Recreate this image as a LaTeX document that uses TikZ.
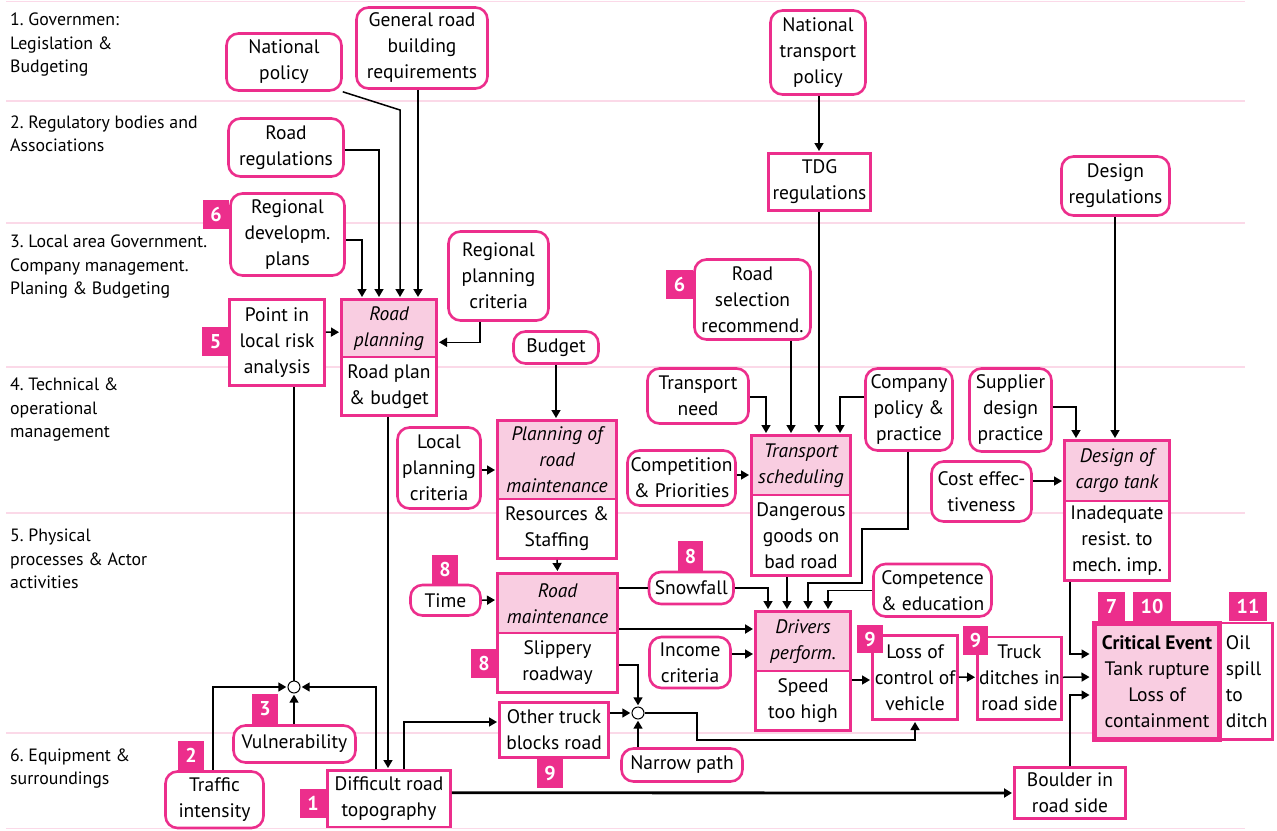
\documentclass[tikz,border=0pt]{standalone}
\usepackage{fontspec}
\setmainfont{PT Sans}
\usetikzlibrary{arrows.meta}
\definecolor{mag}{HTML}{EC2E8C}
\definecolor{lightmag}{HTML}{F9CDE1}
\definecolor{rulepink}{HTML}{FBD9E8}
\newcommand\nodefont{\fontsize{19.5}{26}\selectfont}
\newcommand\lvlfont{\fontsize{17.8}{23.5}\selectfont}
\newcommand\badgefont{\fontsize{20}{20}\selectfont\bfseries}
% box spanning (x1,y1)-(x2,y2): style, name, x1, y1, x2, y2, text
\newcommand\bx[7]{%
  \node[#1, minimum width={#5-#3}, minimum height={#6-#4}]
    (#2) at ({(#3+#5)/2},{(#4+#6)/2}) {#7};}
\begin{document}
\begin{tikzpicture}[x=1pt,y=-1pt,
  base/.style={inner sep=0pt, align=center, font=\nodefont, line width=2.6pt, draw=mag},
  rbox/.style={base, rounded corners=12pt, fill=white},
  sbox/.style={base, fill=white},
  hbox/.style={base, fill=lightmag, font=\nodefont\itshape},
  crit/.style={base, line width=5pt, fill=lightmag},
  badge/.style={inner sep=0pt, fill=mag, text=white, font=\badgefont},
  lvl/.style={inner sep=0pt, align=left, font=\lvlfont, anchor=west},
  junc/.style={circle, draw=black, fill=white, line width=1pt, minimum size=12pt, inner sep=0pt},
  plain/.style={draw=black, line width=1.5pt},
  conn/.style={plain, -{Triangle[length=8pt,width=9pt]}, shorten >=1.2pt},
  heavy/.style={line width=2.8pt},
  rulel/.style={draw=rulepink, line width=1.5pt}]
\useasboundingbox (0,0) rectangle (1277,830);

% level separators
\foreach \y in {1.5,101,223,367,513,733,828.5}
  \draw[rulel] (6,\y) -- (1245,\y);

% level labels
\node[lvl] (lv1) at (10,45) {1.~Governmen:\\Legislation \&\\Budgeting};
\node[lvl] (lv2) at (10,134) {2.~Regulatory bodies and\\Associations};
\node[lvl] (lv3) at (10,267) {3.~Local area Government.\\Company management.\\Planing \& Budgeting};
\node[lvl] (lv4) at (10,410) {4.~Technical \&\\operational\\management};
\node[lvl] (lv5) at (10,559) {5.~Physical\\processes \& Actor\\activities};
\node[lvl] (lv6) at (10,768.5) {6.~Equipment \&\\surroundings};

% level 1 and 2
\bx{rbox}{natpol}{226.5}{33.5}{341.5}{90.5}{National\\policy}
\bx{rbox}{genroad}{356.5}{7.5}{487.5}{88.5}{General road\\building\\requirements}
\bx{rbox}{ntp}{770.5}{10.5}{865.5}{94.5}{National\\transport\\policy}
\bx{rbox}{roadreg}{228.5}{118.5}{343.5}{176.5}{Road\\regulations}
\bx{sbox}{tdg}{768.5}{153.5}{870.5}{210.5}{TDG\\regulations}
\bx{rbox}{desreg}{1061.5}{156.5}{1169.5}{215.5}{Design\\regulations}

% level 3
\bx{rbox}{regdev}{230.5}{193.5}{344.5}{275.5}{Regional\\developm.\\plans}
\bx{rbox}{regplan}{448.5}{231.5}{548.5}{320.5}{Regional\\planning\\criteria}
\bx{rbox}{roadsel}{694.5}{259.5}{810.5}{339.5}{Road\\selection\\recommend.}
\bx{sbox}{pointrisk}{229.5}{299.5}{324.5}{385.5}{Point in\\local risk\\analysis}
\bx{sbox}{rplanb}{341.5}{357}{436.5}{415.5}{Road plan\\\& budget}
\bx{hbox}{rplan}{341.5}{299.5}{436.5}{357}{Road\\planning}
\bx{rbox}{budget}{513.5}{331.5}{598.5}{363.5}{Budget}

% level 4
\bx{rbox}{localplan}{397.5}{427.5}{480.5}{508.5}{Local\\planning\\criteria}
\bx{sbox}{pmaintb}{497.5}{499}{616.5}{558.5}{Resources \&\\Staffing}
\bx{hbox}{pmaint}{497.5}{420.5}{616.5}{499}{Planning of\\road\\maintenance}
\bx{rbox}{tneed}{647.5}{368.5}{748.5}{423.5}{Transport\\need}
\bx{rbox}{compet}{627.5}{450.5}{735.5}{505.5}{Competition\\\& Priorities}
\bx{sbox}{tschedb}{751.5}{495}{850.5}{575.5}{Dangerous\\goods on\\bad road}
\bx{hbox}{tsched}{751.5}{435.5}{850.5}{495}{Transport\\scheduling}
\bx{rbox}{company}{865.5}{368.5}{952.5}{450.5}{Company\\policy \&\\practice}
\bx{rbox}{supplier}{969.5}{368.5}{1051.5}{451.5}{Supplier\\design\\practice}
\bx{rbox}{cost}{931.5}{461.5}{1031.5}{521.5}{Cost effec-\\tiveness}
\bx{sbox}{designb}{1064.5}{501}{1169.5}{580.5}{Inadequate\\resist.~to\\mech.~imp.}
\bx{hbox}{design}{1064.5}{440.5}{1169.5}{501}{Design of\\cargo tank}

% level 5
\bx{rbox}{time}{410.5}{585}{480.5}{615.5}{Time}
\bx{sbox}{rmaintb}{497.5}{633}{617.5}{692.5}{Slippery\\roadway}
\bx{hbox}{rmaint}{497.5}{573.5}{617.5}{633}{Road\\maintenance}
\bx{rbox}{snow}{649}{572}{733.5}{604}{Snowfall}
\bx{rbox}{competence}{873.5}{564}{991.5}{616.5}{Competence\\\& education}
\bx{sbox}{driversb}{755.5}{671}{850.5}{730.5}{Speed\\too high}
\bx{hbox}{drivers}{755.5}{611.5}{850.5}{671}{Drivers\\perform.}
\bx{rbox}{income}{649.5}{637}{730.5}{688}{Income\\criteria}
\bx{sbox}{loss}{872.5}{635.5}{957.5}{719.5}{Loss of\\control of\\vehicle}
\bx{sbox}{truck}{977.5}{637}{1061.5}{719.5}{Truck\\ditches in\\road side}
\bx{sbox,align=left}{oil}{1221}{623}{1272.5}{739.5}{Oil\\spill\\to\\ditch}
\bx{crit}{critical}{1094.5}{623.5}{1219.5}{739.5}{\textbf{Critical Event}\\Tank rupture\\Loss of\\containment}

% level 6
\bx{sbox}{other}{499.5}{702.5}{608.5}{757.5}{Other truck\\blocks road}
\bx{rbox}{narrow}{621.5}{748.5}{742.5}{781.5}{Narrow path}
\bx{rbox}{vuln}{233.5}{725.5}{355.5}{762.5}{Vulnerability}
\bx{rbox}{traffic}{165.5}{771.5}{263.5}{828}{Traffic\\intensity}
\bx{sbox}{difficult}{327.5}{770.5}{450.5}{827}{Difficult road\\topography}
\bx{sbox}{boulder}{1014.5}{767.5}{1125.5}{818.5}{Boulder in\\road side}

% junctions
\node[junc] (j1) at (294,687) {};
\node[junc] (j2) at (638,713) {};

% numbered tags
\bx{badge}{tagA}{203}{200}{229}{229}{6}
\bx{badge}{tagB}{666}{270}{693}{299}{6}
\bx{badge}{tagC}{202}{327}{229}{356}{5}
\bx{badge}{tagD}{432}{555}{458}{584}{8}
\bx{badge}{tagE}{471}{649}{497}{678}{8}
\bx{badge}{tagF}{678}{541}{703}{571}{8}
\bx{badge}{tagG}{857}{625}{883}{653}{9}
\bx{badge}{tagH}{963}{626}{988}{655}{9}
\bx{badge}{tagI}{1098}{592}{1125}{621}{7}
\bx{badge}{tagJ}{1133}{592}{1171}{621}{10}
\bx{badge}{tagK}{1229}{592}{1267}{621}{11}
\bx{badge}{tagL}{537}{759}{563}{788}{9}
\bx{badge}{tagM}{252}{694}{278}{724}{3}
\bx{badge}{tagN}{178}{741}{204}{770}{2}
\bx{badge}{tagO}{300}{789}{326}{818}{1}

% connectors into road planning
\draw[conn] (natpol.south east) -- (400,110) -- ([xshift=11]rplan.north);
\draw[conn,heavy] ([xshift=-4]genroad.south) -- ([xshift=29]rplan.north);
\draw[conn] ([yshift=-2.5]roadreg.east) -| ([xshift=-10]rplan.north);
\draw[conn] ([yshift=-5.5]regdev.east) -| ([xshift=-27]rplan.north);
\draw[conn] ([xshift=-18.5]regplan.south) |- ([yshift=-14]rplan.east);
\draw[conn] ([yshift=10.5]pointrisk.east) -- ([yshift=-4]rplan.west);

% risk combination at the roadside
\draw[plain] ([xshift=17]pointrisk.south) -- (j1.north);
\draw[conn] ([xshift=-1.5]traffic.north) |- (j1.west);
\draw[conn] (vuln.north -| j1.south) -- (j1.south);
\draw[conn] ([xshift=-13]difficult.north) |- (j1.east);
\draw[conn] ([xshift=-1]rplanb.south) -- ([xshift=-1]difficult.north);
\draw[conn] ([xshift=15]difficult.north) |- ([yshift=8]other.west);
\draw[conn,heavy] ([yshift=6]difficult.east) -- (boulder.west);

% road maintenance chain
\draw[conn] (budget.south) -- ([xshift=-1]pmaint.north);
\draw[conn] ([yshift=-2]localplan.east) -- ([yshift=-10.25]pmaint.west);
\draw[conn] (pmaintb.south) -- (rmaint.north);
\draw[conn] (time.east) -- ([yshift=3.25]rmaint.west);
\draw[plain] ([yshift=15.25]rmaint.east) -- (snow.west);
\draw[conn] (snow.east) -| ([xshift=-35]drivers.north);
\draw[conn,heavy] ([yshift=-25.75]rmaint.east) -- ([yshift=12.25]drivers.west);
\draw[conn] ([yshift=-2.25]rmaintb.east) -| (j2.north);
\draw[conn] ([yshift=17]other.east) -- (j2.west);
\draw[conn] ([xshift=-44]narrow.north) -- (j2.south);
\draw[conn] (j2.east) -- (697,713) -- (697,740) -| (loss.south);

% transport scheduling
\draw[conn] ([xshift=1]ntp.south) -- ([xshift=-0.5]tdg.north);
\draw[conn,heavy] ([xshift=-0.5]tdg.south) -- ([xshift=18]tsched.north);
\draw[conn] ([xshift=38.5]roadsel.south) -- ([xshift=-10]tsched.north);
\draw[conn] ([yshift=-1]tneed.east) -| ([xshift=-35]tsched.north);
\draw[conn] ([yshift=12.5]company.west) -| ([xshift=39]tsched.north);
\draw[conn] ([yshift=3]compet.east) -- ([yshift=-9.75]tsched.west);

% drivers performance
\draw[conn] ([xshift=-14]tschedb.south) -- ([xshift=-16]drivers.north);
\draw[conn] ([xshift=-1]company.south) -- (908,529) -- (862,529) -- (862,583) -| ([xshift=5]drivers.north);
\draw[conn] (competence.west) -| ([xshift=25]drivers.north);
\draw[conn] ([yshift=8.5]income.east) -- ([yshift=-12.75]drivers.west);
\draw[conn] ([yshift=20.75]driversb.east) -- ([yshift=-2.5]loss.west);
\draw[conn] ([yshift=0.5]loss.east) -- ([yshift=1]truck.west);

% cargo tank design
\draw[conn] ([yshift=3]supplier.east) -| ([xshift=-41]design.north);
\draw[conn] ([xshift=-0.5]desreg.south) -- ([xshift=-2]design.north);
\draw[conn] ([yshift=10.5]cost.east) -- ([yshift=-10.25]design.west);

% into the critical event
\draw[conn,shorten >=2.5pt] ([yshift=1]truck.east) -- ([yshift=4.5]critical.west);
\draw[conn,shorten >=2.5pt] ([xshift=-47]designb.south) |- ([yshift=27.5]critical.west);
\draw[conn,shorten >=2.5pt] (boulder.north) |- ([yshift=-13.5]critical.west);
\end{tikzpicture}
\end{document}
